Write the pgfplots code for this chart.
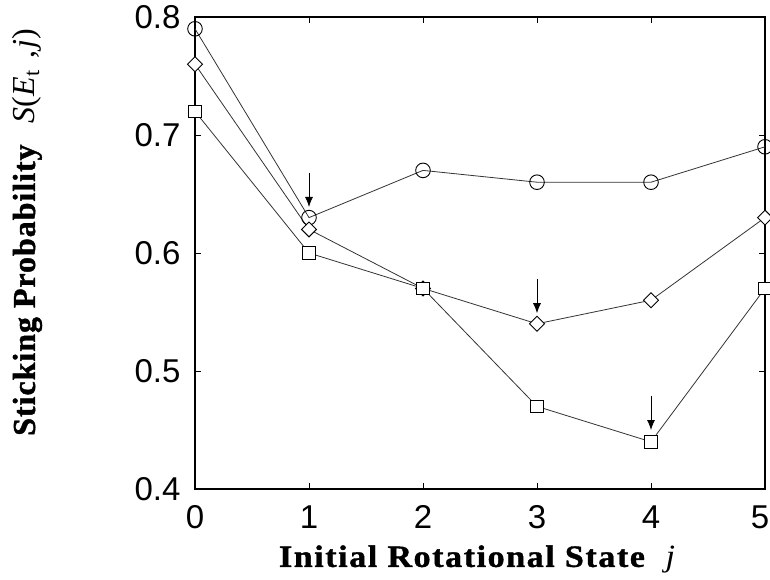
\documentclass[border=0pt]{standalone}
\usepackage{fontspec}
\setmainfont{Liberation Serif}
\setsansfont{Liberation Sans}
\usepackage{pgfplots}
\pgfplotsset{compat=1.18}
\usetikzlibrary{arrows.meta}
\begin{document}
\begin{tikzpicture}
\begin{axis}[
  at={(0,0)}, anchor=south west,
  scale only axis, width=570pt, height=472pt,
  xmin=0, xmax=5, ymin=0.4, ymax=0.8,
  xtick={0,1,2,3,4,5}, xticklabels={0,1,2,3,4,\hspace*{-10pt}5},
  ytick={0.4,0.5,0.6,0.7,0.8}, yticklabels={0.4,0.5,0.6,0.7,0.8},
  tick align=inside, major tick length=6pt,
  axis line style={line width=1.6pt},
  every tick/.style={black, line width=0.8pt},
  tick label style={font=\sffamily\fontsize{33}{40}\selectfont},
  xticklabel style={yshift=-13pt},
  yticklabel style={xshift=-11pt},
  clip=false,
]
\addplot[line width=0.8pt, draw=black!80, mark=o, mark size=7.3pt, mark options={draw=black, fill=white, line width=0.9pt}] coordinates {(0,0.79) (1,0.63) (2,0.67) (3,0.66) (4,0.66) (5,0.69)};
\addplot[line width=0.8pt, draw=black!80, mark=square*, mark size=6pt, mark options={draw=black, fill=white, line width=0.9pt, rotate=45, scale=0.88}] coordinates {(0,0.76) (1,0.62) (2,0.57) (3,0.54) (4,0.56) (5,0.63)};
\addplot[line width=0.8pt, draw=black!80, mark=square*, mark size=6.2pt, mark options={draw=black, fill=white, line width=0.9pt}] coordinates {(0,0.72) (1,0.60) (2,0.57) (3,0.47) (4,0.44) (5,0.57)};
\draw[line width=0.8pt, -{Latex[length=10pt,width=8pt]}] (axis cs:1,0.668) -- (axis cs:1,0.639);
\draw[line width=0.8pt, -{Latex[length=10pt,width=8pt]}] (axis cs:3,0.578) -- (axis cs:3,0.549);
\draw[line width=0.8pt, -{Latex[length=10pt,width=8pt]}] (axis cs:4,0.479) -- (axis cs:4,0.45);
\node[anchor=base, inner sep=0pt, font=\fontsize{31}{37}\selectfont] at (axis description cs:0.4947,-0.165)
  {{\addfontfeature{LetterSpace=5,FakeStretch=1.1,FakeBold=1.2}\textbf{Initial Rotational State}}\hspace{19pt}{\addfontfeature{FakeStretch=1.1}\textit{j}}};
\node[anchor=base, rotate=90, inner sep=0pt, font=\fontsize{32}{38}\selectfont] at (axis description cs:-0.2807,0.5434)
  {{\addfontfeature{LetterSpace=3,FakeBold=1.2}\textbf{Sticking Probability}}\hspace{20pt}\textit{S}(\textit{E}\kern1pt\textsubscript{t}\,\,,\kern2pt\textit{j})};
\end{axis}
\pgfresetboundingbox
\useasboundingbox (-195pt,-90pt) rectangle (575pt,489pt);
\end{tikzpicture}
\end{document}
